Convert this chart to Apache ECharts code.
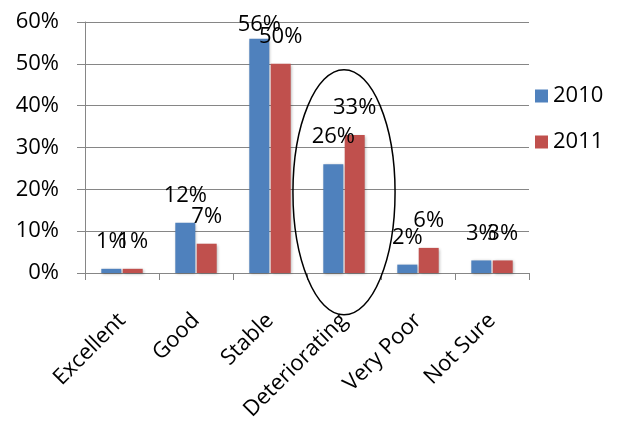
<!DOCTYPE html>
<html>
<head>
<meta charset="utf-8">
<script src="https://cdn.jsdelivr.net/npm/echarts@6/dist/echarts.min.js"></script>
<style>
  html, body { margin: 0; padding: 0; background: #fff; }
  #chart { width: 619px; height: 421px; }
</style>
</head>
<body>
<div id="chart"></div>
<script>
// Survey responses by rating, share of respondents (%)
const categories = ['Excellent', 'Good', 'Stable', 'Deteriorating', 'Very Poor', 'Not Sure'];
const seriesNames = ['2010', '2011'];
const values2010 = [1, 12, 56, 26, 2, 3];
const values2011 = [1, 7, 50, 33, 6, 3];
const yMin = 0, yMax = 60, yStep = 10;

// Rating circled on the chart, and the vertical span of the outline in axis units
const highlightCategory = 'Deteriorating';
const highlightSpan = [-10, 48.6];

const FONT = 'Open Sans';
const GRID_GRAY = '#868686';
const COLORS = ['#4F81BD', '#C0504D'];
const LABEL_SIZE = 22;
const LABEL_DISTANCE = 16;
const LABEL_MIN_TOP = 14;

const chart = echarts.init(document.getElementById('chart'), null, { renderer: 'canvas' });

function makeSeries(name, values, color, distances) {
  return {
    name: name,
    type: 'bar',
    barWidth: 20,
    barGap: '7%',
    data: values.map((v, i) => distances && distances[i] !== LABEL_DISTANCE
      ? { value: v, label: { distance: distances[i] } }
      : v),
    itemStyle: {
      color: color,
      shadowBlur: 3,
      shadowColor: 'rgba(0,0,0,0.3)',
      shadowOffsetX: 1,
      shadowOffsetY: 1
    },
    label: {
      show: true,
      position: 'top',
      distance: LABEL_DISTANCE,
      formatter: p => p.value + '%',
      color: '#000',
      fontFamily: FONT,
      fontSize: LABEL_SIZE
    }
  };
}

const option = {
  animation: false,
  backgroundColor: '#fff',
  color: COLORS,
  grid: {
    left: 85, right: 90, top: 22, bottom: 148,
    containLabel: false,
    outerBoundsMode: 'none'
  },
  legend: {
    orient: 'vertical',
    left: 535,
    top: 85,
    padding: 0,
    itemWidth: 13,
    itemHeight: 13,
    itemGap: 24,
    icon: 'rect',
    data: seriesNames,
    textStyle: { fontFamily: FONT, fontSize: LABEL_SIZE, color: '#000' }
  },
  xAxis: {
    type: 'category',
    data: categories,
    axisLine: { lineStyle: { color: GRID_GRAY, width: 1 } },
    axisTick: { show: true, length: 7, lineStyle: { color: GRID_GRAY } },
    axisLabel: {
      interval: 0,
      rotate: 45,
      margin: 44,
      padding: [27, 0, 0, 0],
      color: '#000',
      fontFamily: FONT,
      fontSize: 22
    }
  },
  yAxis: {
    type: 'value',
    min: yMin,
    max: yMax,
    interval: yStep,
    axisLine: { show: true, lineStyle: { color: GRID_GRAY, width: 1 } },
    axisTick: { show: true, length: 8, lineStyle: { color: GRID_GRAY } },
    splitLine: { lineStyle: { color: GRID_GRAY, width: 1 } },
    axisLabel: {
      formatter: '{value}%',
      margin: 26,
      color: '#000',
      fontFamily: FONT,
      fontSize: LABEL_SIZE
    }
  },
  series: [
    makeSeries(seriesNames[0], values2010, COLORS[0]),
    makeSeries(seriesNames[1], values2011, COLORS[1])
  ]
};

chart.setOption(option);

// Keep value labels inside the chart: labels on tall bars sit closer to the bar
function labelDistances(values) {
  return values.map(v => {
    const top = chart.convertToPixel({ yAxisIndex: 0 }, v);
    const room = top - LABEL_SIZE - LABEL_MIN_TOP;
    return Math.max(2, Math.min(LABEL_DISTANCE, room));
  });
}

// Outline around the highlighted rating
const idx = categories.indexOf(highlightCategory);
const cx = chart.convertToPixel({ xAxisIndex: 0 }, categories[idx]);
const stepPx = chart.convertToPixel({ xAxisIndex: 0 }, categories[1]) -
               chart.convertToPixel({ xAxisIndex: 0 }, categories[0]);
const yTop = chart.convertToPixel({ yAxisIndex: 0 }, highlightSpan[1]);
const yBottom = chart.convertToPixel({ yAxisIndex: 0 }, highlightSpan[0]);

chart.setOption({
  series: [
    makeSeries(seriesNames[0], values2010, COLORS[0], labelDistances(values2010)),
    makeSeries(seriesNames[1], values2011, COLORS[1], labelDistances(values2011))
  ],
  graphic: [{
    type: 'ellipse',
    z: 100,
    silent: true,
    shape: {
      cx: cx,
      cy: (yTop + yBottom) / 2,
      rx: stepPx * 0.69,
      ry: (yBottom - yTop) / 2
    },
    style: { fill: null, stroke: '#000', lineWidth: 1.5 }
  }]
});
</script>
</body>
</html>
